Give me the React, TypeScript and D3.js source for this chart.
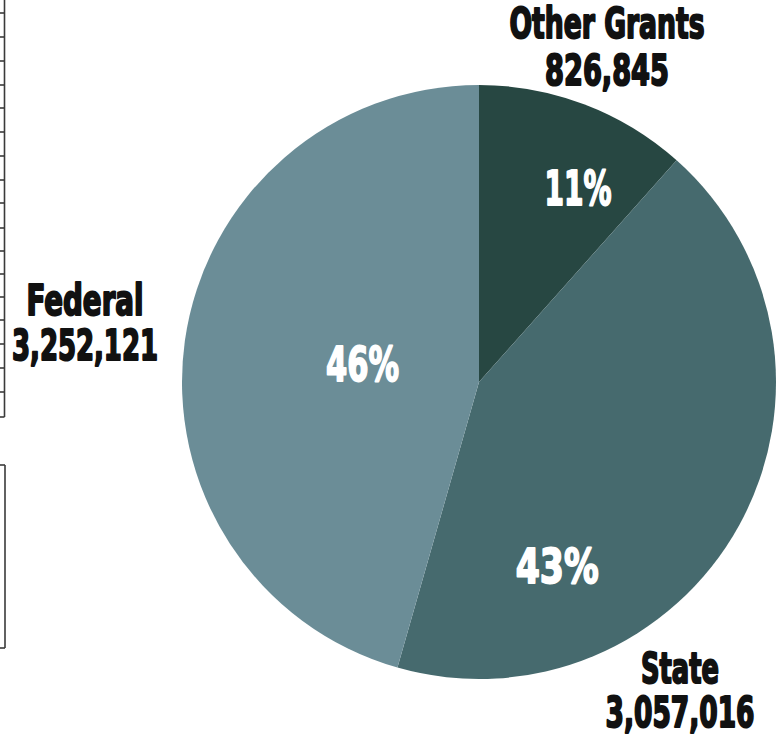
import React from "react";
import * as d3 from "d3";

const categories = ["Other Grants", "State", "Federal"];
const amounts = [826845, 3057016, 3252121];
const amountLabels = ["826,845", "3,057,016", "3,252,121"];
const percentLabels = ["11%", "43%", "46%"];
const colors = ["#274742", "#466a6e", "#6b8d97"];

// layout constants
const W = 783;
const H = 746;
const CX = 479;
const CY = 382;
const R = 297;
const FONT = "'Liberation Sans Narrow', 'DejaVu Sans Condensed', 'Arial Narrow', sans-serif";

// percent label placement (degrees clockwise from 12 o'clock, distance from centre)
const pctPlace = [
  { a: 27, d: 218, w: 67 },
  { a: 157, d: 200, w: 83 },
  { a: 279, d: 118, w: 73 },
];
// category label placement (centre x, baselines, widths)
const catPlace = [
  { x: 607, y1: 38, y2: 85, w1: 195, w2: 124 },
  { x: 680, y1: 683, y2: 727, w1: 78, w2: 149 },
  { x: 85, y1: 315, y2: 360, w1: 117, w2: 146 },
];
// cropped neighbouring table fragment on the left edge
const tickYs = [13, 37, 61, 85, 108, 132, 156, 180, 203, 228, 251, 274, 297, 320, 344, 368, 392];

export default function App() {
  const pie = d3
    .pie<number>()
    .sort(null)
    .startAngle(0)
    .endAngle(2 * Math.PI)
    .value((d) => d);
  const arcs = pie(amounts);
  const arcGen = d3.arc<d3.PieArcDatum<number>>().innerRadius(0).outerRadius(R);

  return (
    <svg
      width={W}
      height={H}
      style={{ position: "fixed", left: 0, top: 0, background: "#fff" }}
    >
      <rect x={0} y={0} width={W} height={H} fill="#ffffff" />
      {/* left fragment */}
      <g stroke="#3a3a3a" strokeWidth={1.6} fill="none">
        <line x1={4.5} y1={0} x2={4.5} y2={417} />
        {tickYs.map((y, i) => (
          <line key={i} x1={0} y1={y} x2={4.5} y2={y} />
        ))}
        <line x1={0} y1={417} x2={4.5} y2={417} />
        <line x1={5} y1={465} x2={5} y2={648} />
        <line x1={0} y1={465} x2={5} y2={465} />
        <line x1={0} y1={648} x2={5} y2={648} />
      </g>
      <g transform={`translate(${CX},${CY})`}>
        {arcs.map((a, i) => (
          <path key={categories[i]} d={arcGen(a) || ""} fill={colors[i]} />
        ))}
        {arcs.map((a, i) => {
          const ang = (pctPlace[i].a * Math.PI) / 180;
          const x = Math.sin(ang) * pctPlace[i].d;
          const y = -Math.cos(ang) * pctPlace[i].d;
          return (
            <text
              key={"p" + i}
              x={x}
              y={y + 17}
              textAnchor="middle"
              fontFamily={FONT}
              fontWeight="bold"
              fontSize={48}
              fill="#ffffff"
              stroke="#ffffff"
              strokeWidth={1.8}
              strokeLinejoin="round"
              textLength={pctPlace[i].w}
              lengthAdjust="spacingAndGlyphs"
            >
              {percentLabels[i]}
            </text>
          );
        })}
      </g>
      {categories.map((c, i) => (
        <g key={"c" + i} fontFamily={FONT} fontWeight="bold" fontSize={42} fill="#111" stroke="#111" strokeWidth={2} strokeLinejoin="round" textAnchor="middle">
          <text x={catPlace[i].x} y={catPlace[i].y1} textLength={catPlace[i].w1} lengthAdjust="spacingAndGlyphs">
            {c}
          </text>
          <text x={catPlace[i].x} y={catPlace[i].y2} textLength={catPlace[i].w2} lengthAdjust="spacingAndGlyphs">
            {amountLabels[i]}
          </text>
        </g>
      ))}
    </svg>
  );
}
